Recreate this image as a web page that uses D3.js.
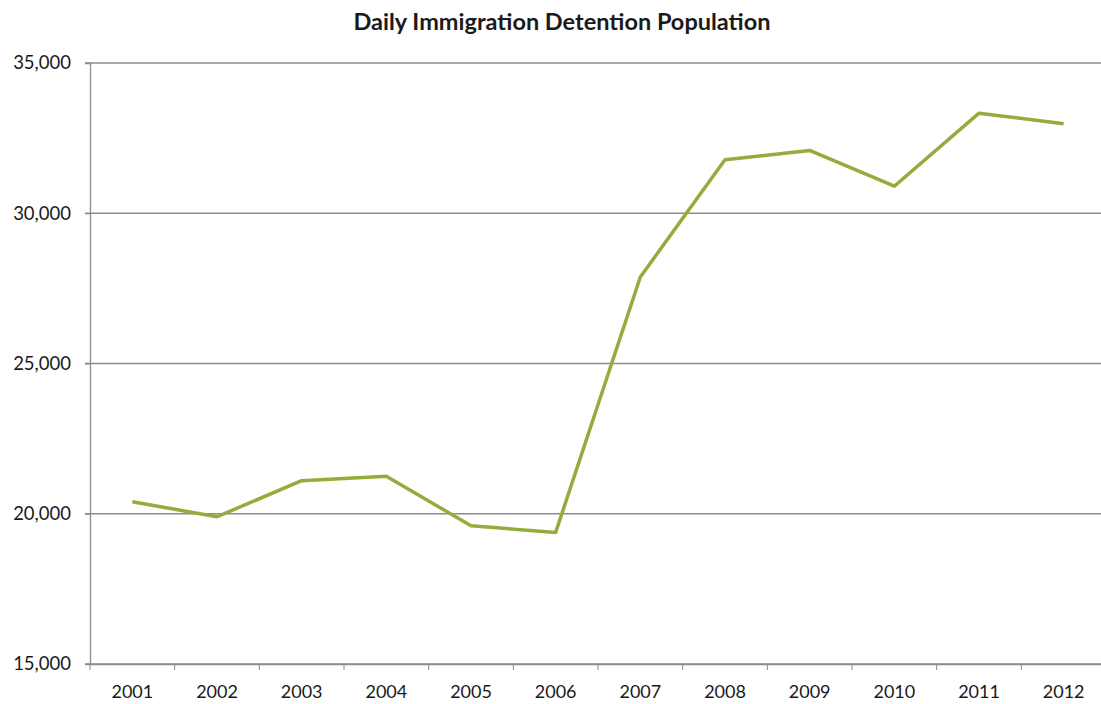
<!DOCTYPE html>
<html>
<head>
<meta charset="utf-8">
<script src="https://cdn.jsdelivr.net/npm/d3@7"></script>
<style>
  body { margin: 0; background: #fff; }
  text { font-family: Lato, "Open Sans", sans-serif; fill: #1a1a1a; }
</style>
</head>
<body>
<script>
const years = ['2001', '2002', '2003', '2004', '2005', '2006', '2007', '2008', '2009', '2010', '2011', '2012'];
const population = [20400, 19900, 21100, 21250, 19600, 19380, 27880, 31780, 32090, 30900, 33330, 32980];
const yTicks = [15000, 20000, 25000, 30000, 35000];
const title = 'Daily Immigration Detention Population';

const w = 1101, h = 704;
const marginTop = 63, marginBottom = 40, marginLeft = 90, marginRight = -5;

const svg = d3.select('body').append('svg').attr('width', w).attr('height', h);

const x = d3.scaleBand().domain(years).range([marginLeft, w - marginRight]);
const y = d3.scaleLinear().domain([15000, 35000]).range([h - marginBottom, marginTop]);

// gridlines
svg.append('g')
    .selectAll('line')
    .data(yTicks)
    .join('line')
    .attr('x1', marginLeft - 5)
    .attr('x2', w)
    .attr('y1', d => y(d))
    .attr('y2', d => y(d))
    .attr('stroke', '#8c8c8c')
    .attr('stroke-width', 1.3);

// y axis
const yAxis = svg.append('g')
    .attr('transform', `translate(${marginLeft}, 0)`)
    .call(d3.axisLeft(y).tickValues(yTicks).tickFormat(d3.format(',')).tickSize(5).tickPadding(14));
yAxis.select('.domain').attr('stroke', '#8c8c8c').attr('stroke-width', 1.3);
yAxis.selectAll('.tick line').attr('stroke', '#8c8c8c');
yAxis.selectAll('.tick text').style('font-size', '18.5px').attr('fill', '#1a1a1a');

// x axis, ticks on band boundaries
const xAxis = svg.append('g')
    .attr('transform', `translate(0, ${h - marginBottom})`)
    .call(d3.axisBottom(x).tickSize(0).tickPadding(21));
xAxis.select('.domain').attr('stroke', '#8c8c8c').attr('stroke-width', 1.3);
xAxis.selectAll('.tick text').style('font-size', '18px').attr('fill', '#1a1a1a');
xAxis.append('g')
    .selectAll('line')
    .data(years)
    .join('line')
    .attr('x1', d => x(d))
    .attr('x2', d => x(d))
    .attr('y1', 0)
    .attr('y2', 6)
    .attr('stroke', '#8c8c8c');

// line
svg.append('path')
    .datum(population)
    .attr('fill', 'none')
    .attr('stroke', '#93ad3c')
    .attr('stroke-width', 3.5)
    .attr('stroke-linejoin', 'round')
    .attr('d', d3.line()
        .x((d, i) => x(years[i]) + x.bandwidth() / 2)
        .y(d => y(d))
    );

svg.append('text')
    .attr('x', 562)
    .attr('y', 30)
    .attr('text-anchor', 'middle')
    .style('font-size', '23.5px')
    .style('font-weight', 'bold')
    .text(title);
</script>
</body>
</html>
